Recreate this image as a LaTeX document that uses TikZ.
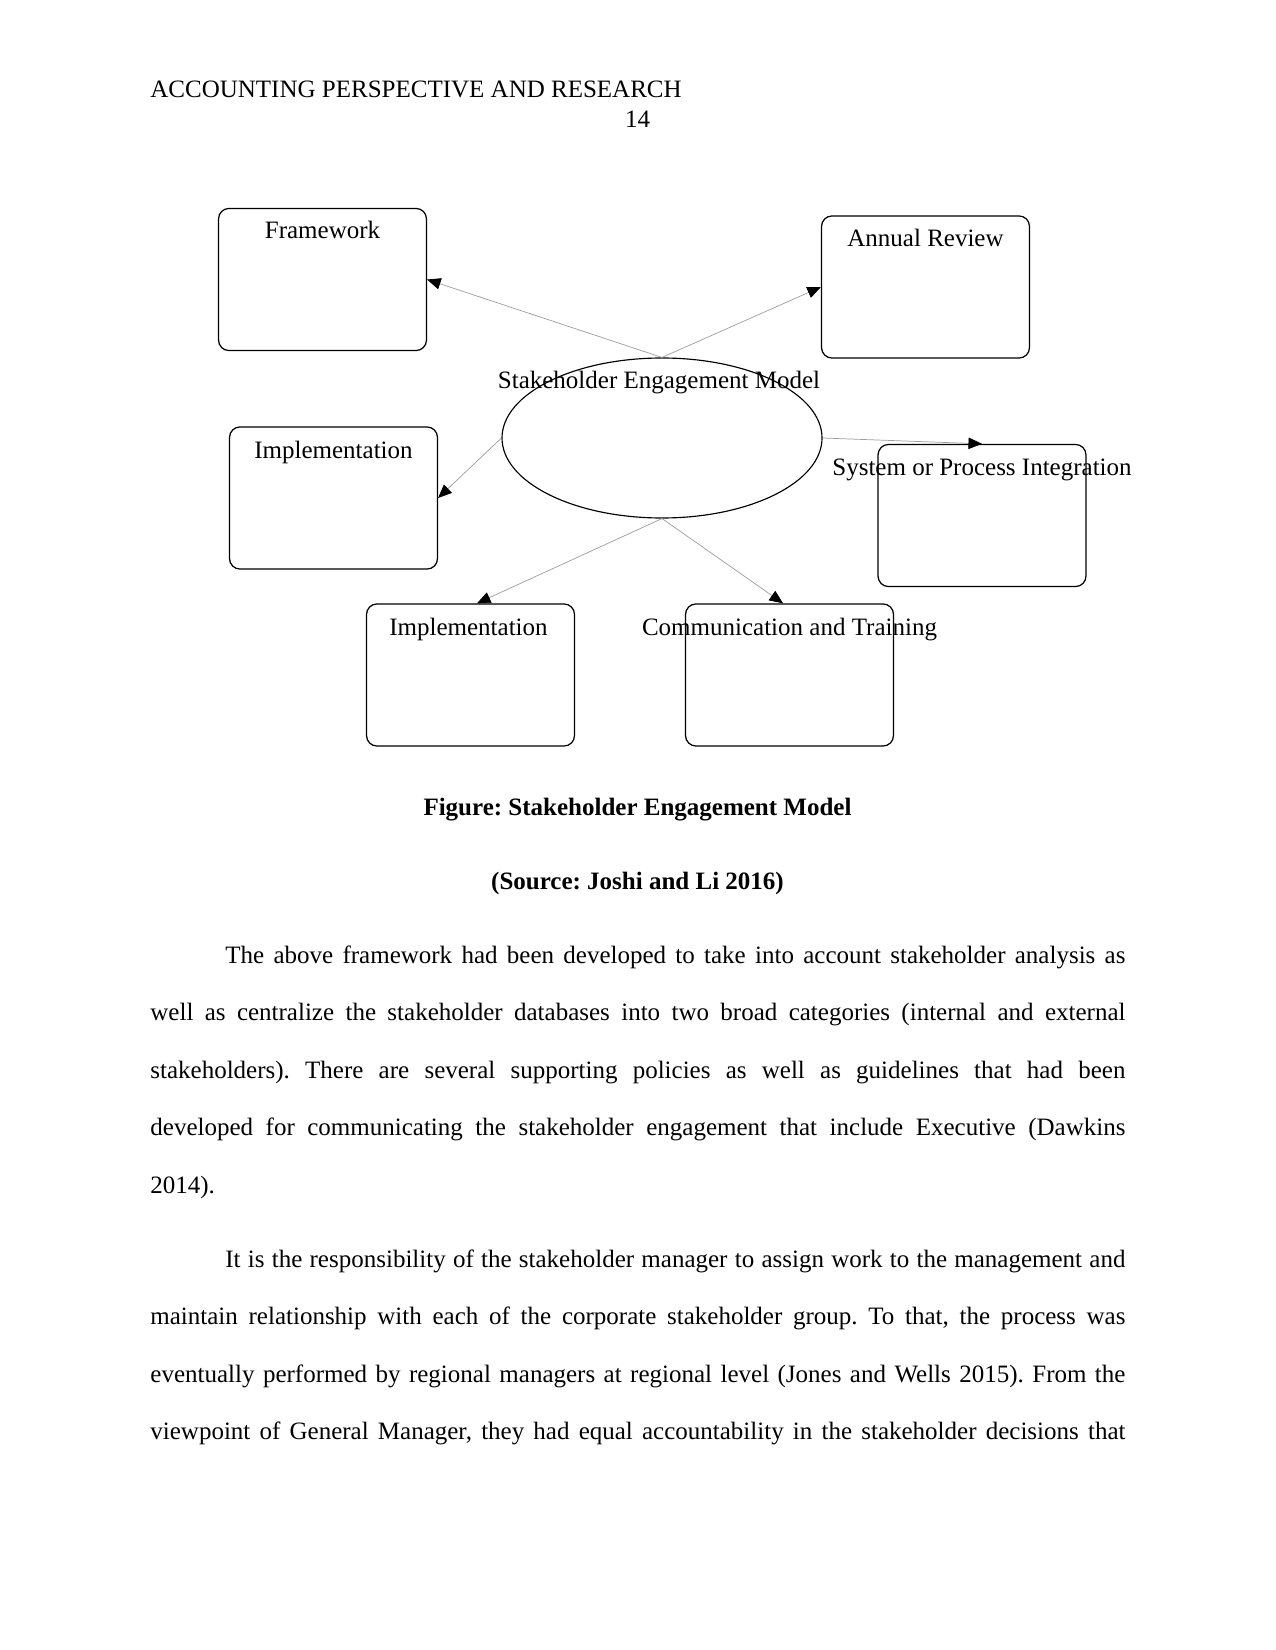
\documentclass[tikz,border=0pt]{standalone}
\usepackage{fontspec}
\setmainfont{Liberation Serif}
\usetikzlibrary{shapes.geometric,arrows.meta}
\frenchspacing
\begin{document}
\begin{tikzpicture}[x=0.48pt,y=-0.48pt,
  box/.style={draw, line width=0.6pt, rounded corners=5pt, minimum width=99.8pt, minimum height=68.2pt, inner sep=0pt},
  lbl/.style={anchor=base, inner sep=0pt, font=\fontsize{12}{14}\selectfont},
  conn/.style={draw=gray!75, line width=0.35pt, -{Triangle[length=6.5pt,width=5.5pt,color=black]}},
  para/.style={anchor=base west, inner sep=0pt}]
\useasboundingbox (0,0) rectangle (1275,1650);
% header
\node[lbl, anchor=base west] (hdr) at (150,98) {ACCOUNTING PERSPECTIVE AND RESEARCH};
\node[lbl] (pg) at (637.5,128) {14};
% boxes
\node[box] (fw) at (322.5,279.5) {};
\node[box] (ar) at (925.5,287) {};
\node[box] (impl1) at (333.5,498) {};
\node[box] (spi) at (982,515.5) {};
\node[box] (impl2) at (470.5,675) {};
\node[box] (ct) at (789.5,675) {};
\node[ellipse, draw, line width=0.55pt, minimum width=153.6pt, minimum height=76.8pt, inner sep=0pt] (el) at (662,438) {};
% labels
\node[lbl] (fwt) at (322.5,239) {Framework};
\node[lbl] (art) at (925.5,247) {Annual Review};
\node[lbl] (elt) at (659,389) {Stakeholder Engagement Model};
\node[lbl] (impl1t) at (333.5,458) {Implementation};
\node[lbl] (spit) at (982,475) {System or Process Integration};
\node[lbl] (impl2t) at (468.5,635) {Implementation};
\node[lbl] (ctt) at (789.5,635) {Communication and Training};
% connectors
\draw[conn] (el.north) -- (fw.east);
\draw[conn] (el.north) -- (ar.west);
\draw[conn] (el.east) -- (spi.north);
\draw[conn] (el.west) -- (impl1.east);
\draw[conn] (el.south) -- ([xshift=3.1pt]impl2.north);
\draw[conn] (el.south) -- ([xshift=-3.1pt]ct.north);
% caption
\node[lbl, font=\fontsize{12}{14}\selectfont\bfseries] (cap) at (637.5,815) {Figure: Stakeholder Engagement Model};
\node[lbl, font=\fontsize{12}{14}\selectfont\bfseries] (src) at (637.5,889) {(Source: Joshi and Li 2016)};
% paragraphs
\node[para] (p1) at (150,963) {\parbox[t]{468pt}{\fontsize{12}{27.6}\selectfont\frenchspacing\hyphenpenalty=10000\tolerance=9999\noindent\hspace*{36pt}The above framework had been developed to take into account stakeholder analysis as\linebreak
well as centralize the stakeholder databases into two broad categories (internal and external\linebreak
stakeholders). There are several supporting policies as well as guidelines that had been\linebreak
developed for communicating the stakeholder engagement that include Executive (Dawkins\linebreak
2014).}};
\node[para] (p2) at (150,1267) {\parbox[t]{468pt}{\fontsize{12}{27.6}\selectfont\frenchspacing\hyphenpenalty=10000\tolerance=9999\parfillskip=0pt\noindent\hspace*{36pt}It is the responsibility of the stakeholder manager to assign work to the management and\linebreak
maintain relationship with each of the corporate stakeholder group. To that, the process was\linebreak
eventually performed by regional managers at regional level (Jones and Wells 2015). From the\linebreak
viewpoint of General Manager, they had equal accountability in the stakeholder decisions that}};
\end{tikzpicture}
\end{document}
